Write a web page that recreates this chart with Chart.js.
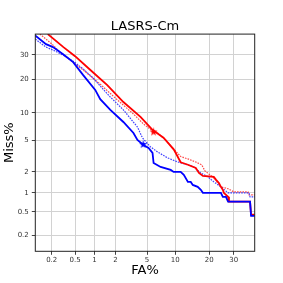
<!DOCTYPE html>
<html>
<head>
<meta charset="utf-8">
<script src="https://cdn.jsdelivr.net/npm/chart.js@4/dist/chart.umd.min.js"></script>
<style>
  html, body { margin: 0; padding: 0; background: #fff; }
  #wrap { width: 283px; height: 283px; }
</style>
</head>
<body>
<div id="wrap"><canvas id="detChart" width="283" height="283"></canvas></div>
<script>
// Curvas DET (valores em %)
const redSolidFA   = [0.17, 0.32, 0.50, 0.87, 1.54, 2.55, 4.18, 5.8, 7.6, 9.7, 11.3, 13.2, 15.5, 16.5, 17.8, 21.7, 22.6, 23.7, 24.5, 25.3, 25.7, 27.5, 27.9, 37.7, 38.2, 40.7];
const redSolidMiss = [40.0, 33.6, 29.4, 23.5, 17.9, 12.7, 9.1, 6.6, 5.4, 3.9, 2.7, 2.5, 2.27, 1.94, 1.76, 1.71, 1.55, 1.40, 1.23, 1.11, 1.00, 0.87, 0.73, 0.73, 0.45, 0.45];

const redDotFA   = [0.122, 0.203, 0.280, 0.415, 0.674, 1.22, 2.12, 3.43, 4.54, 5.77, 6.57, 8.0, 9.66, 11.3, 13.2, 15.5, 17.4, 18.5, 21.7, 24.5, 27.5, 30.1, 36.7, 37.2, 40.7];
const redDotMiss = [40.0, 35.0, 31.2, 27.7, 23.5, 18.2, 13.3, 9.73, 7.68, 6.45, 6.12, 5.09, 3.98, 3.2, 2.98, 2.72, 2.49, 2.07, 1.65, 1.23, 1.15, 1.03, 1.03, 0.93, 0.93];

const blueSolidFA   = [0.098, 0.158, 0.211, 0.316, 0.465, 0.674, 1.03, 1.22, 1.70, 2.55, 3.43, 3.84, 4.54, 5.2, 5.77, 5.93, 7.08, 9.02, 9.66, 11.3, 12.1, 13.2, 14.0, 14.6, 16.1, 17.1, 17.8, 24.5, 25.3, 26.6, 27.5, 37.7, 38.2, 40.2, 40.7];
const blueSolidMiss = [39.5, 35.0, 33.6, 30.3, 26.8, 21.5, 16.3, 13.5, 10.7, 8.06, 6.12, 5.09, 4.45, 4.09, 3.55, 2.64, 2.34, 2.13, 2.00, 2.00, 1.82, 1.45, 1.45, 1.31, 1.23, 1.11, 1.00, 1.00, 0.87, 0.87, 0.73, 0.73, 0.43, 0.43, 0.25];

const blueDotFA   = [0.1, 0.158, 0.211, 0.316, 0.465, 0.674, 0.96, 1.22, 1.70, 2.55, 3.84, 4.42, 5.48, 6.57, 8.41, 10.6, 13.2, 14.9, 17.1, 19.5, 21.7, 24.5, 27.5, 37.2, 37.7, 40.7];
const blueDotMiss = [37.5, 33.6, 32.2, 29.9, 27.2, 23.9, 20.4, 17.6, 14.1, 10.7, 7.12, 5.37, 4.21, 3.65, 3.07, 2.72, 2.49, 2.34, 1.94, 1.71, 1.45, 1.23, 1.00, 1.00, 0.87, 0.87];

// pontos marcados com estrela
const redStar  = [5.93, 6.28];
const blueStar = [4.5, 4.5];

const tickValues = [0.2, 0.5, 1, 2, 5, 10, 20, 30];
const tickLabels = ['0.2', '0.5', '1', '2', '5', '10', '20', '30'];
const axisMin = 0.1, axisMax = 40;

// inversa da normal (Acklam) -> eixo probit do DET
function probit(p) {
    const a = [-3.969683028665376e+01, 2.209460984245205e+02, -2.759285104469687e+02, 1.383577518672690e+02, -3.066479806614716e+01, 2.506628277459239e+00];
    const b = [-5.447609879822406e+01, 1.615858368580409e+02, -1.556989798598866e+02, 6.680131188771972e+01, -1.328068155288572e+01];
    const c = [-7.784894002430293e-03, -3.223964580411365e-01, -2.400758277161838e+00, -2.549732539343734e+00, 4.374664141464968e+00, 2.938163982698783e+00];
    const d = [7.784695709041462e-03, 3.224671290700398e-01, 2.445134137142996e+00, 3.754408661907416e+00];
    const plow = 0.02425;
    let q, r;
    if (p < plow) {
        q = Math.sqrt(-2 * Math.log(p));
        return (((((c[0]*q+c[1])*q+c[2])*q+c[3])*q+c[4])*q+c[5]) / ((((d[0]*q+d[1])*q+d[2])*q+d[3])*q+1);
    }
    if (p <= 1 - plow) {
        q = p - 0.5; r = q * q;
        return (((((a[0]*r+a[1])*r+a[2])*r+a[3])*r+a[4])*r+a[5])*q / (((((b[0]*r+b[1])*r+b[2])*r+b[3])*r+b[4])*r+1);
    }
    q = Math.sqrt(-2 * Math.log(1 - p));
    return -(((((c[0]*q+c[1])*q+c[2])*q+c[3])*q+c[4])*q+c[5]) / ((((d[0]*q+d[1])*q+d[2])*q+d[3])*q+1);
}

const toPoints = (fa, miss) => fa.map((v, i) => ({ x: probit(v / 100), y: probit(miss[i] / 100) }));

function starImage(color) {
    const s = 9, cv = document.createElement('canvas');
    cv.width = s; cv.height = s;
    const g = cv.getContext('2d');
    g.fillStyle = color;
    g.beginPath();
    for (let i = 0; i < 10; i++) {
        const r = i % 2 ? 1.7 : 4.2;
        const ang = -Math.PI / 2 + i * Math.PI / 5;
        g.lineTo(s / 2 + r * Math.cos(ang), s / 2 + r * Math.sin(ang));
    }
    g.closePath();
    g.fill();
    return cv;
}

// moldura nos quatro lados
const framePlugin = {
    id: 'frame',
    afterDraw(chart) {
        const { ctx, chartArea: { left, top, right, bottom } } = chart;
        ctx.save();
        ctx.strokeStyle = '#222';
        ctx.lineWidth = 1;
        ctx.strokeRect(left, top, right - left, bottom - top);
        ctx.restore();
    }
};

const font = 'DejaVu Sans';
const fixTicks = scale => { scale.ticks = tickValues.map(v => ({ value: probit(v / 100) })); };

const solid = (label, color, data) => ({
    label, data, showLine: true, borderColor: color, borderWidth: 1.8, pointRadius: 0, tension: 0, fill: false
});
const dotted = (label, color, data) => ({
    label, data, showLine: true, borderColor: color, borderWidth: 1.2, borderDash: [1.6, 1.1], pointRadius: 0, tension: 0, fill: false
});
const star = (label, color, pt) => ({
    label, data: [{ x: probit(pt[0] / 100), y: probit(pt[1] / 100) }],
    showLine: false, pointStyle: starImage(color), pointRadius: 4
});

new Chart(document.getElementById('detChart'), {
    type: 'scatter',
    data: {
        datasets: [
            star('red star', '#ff0000', redStar),
            star('blue star', '#0000ff', blueStar),
            solid('blue', '#0000ff', toPoints(blueSolidFA, blueSolidMiss)),
            solid('red', '#ff0000', toPoints(redSolidFA, redSolidMiss)),
            dotted('blue dotted', 'rgba(30,30,255,0.85)', toPoints(blueDotFA, blueDotMiss)),
            dotted('red dotted', 'rgba(255,30,30,0.8)', toPoints(redDotFA, redDotMiss))
        ]
    },
    options: {
        responsive: false,
        animation: false,
        layout: { padding: { left: 0, right: 28.3, top: 0, bottom: 0 } },
        plugins: {
            legend: { display: false },
            tooltip: { enabled: false },
            title: {
                display: true,
                text: 'LASRS-Cm',
                fullSize: false,
                color: '#000',
                font: { family: font, size: 13, weight: 'normal' },
                padding: { top: 18.5, bottom: 0 }
            }
        },
        scales: {
            x: {
                type: 'linear',
                min: probit(axisMin / 100),
                max: probit(axisMax / 100),
                afterBuildTicks: fixTicks,
                afterFit: s => { s.height = 31.7; },
                ticks: {
                    autoSkip: false, maxRotation: 0, padding: 1,
                    color: '#333', font: { family: font, size: 7 },
                    callback: (v, i) => tickLabels[i]
                },
                grid: { color: '#d2d2d2', lineWidth: 1, tickLength: 3.5, tickColor: '#444', tickWidth: 1 },
                border: { display: false },
                title: {
                    display: true, text: 'FA%', color: '#000',
                    font: { family: font, size: 13 },
                    padding: { top: 0, bottom: 4.5 }
                }
            },
            y: {
                type: 'linear',
                min: probit(axisMin / 100),
                max: probit(axisMax / 100),
                afterBuildTicks: fixTicks,
                afterFit: s => { s.width = 35.3; },
                ticks: {
                    autoSkip: false, padding: 3,
                    color: '#333', font: { family: font, size: 7 },
                    callback: (v, i) => tickLabels[i]
                },
                grid: { color: '#d2d2d2', lineWidth: 1, tickLength: 3.5, tickColor: '#444', tickWidth: 1 },
                border: { display: false },
                title: {
                    display: true, text: 'Miss%', color: '#000',
                    font: { family: font, size: 13 },
                    padding: { top: 2.2, bottom: 0 }
                }
            }
        }
    },
    plugins: [framePlugin]
});
</script>
</body>
</html>
